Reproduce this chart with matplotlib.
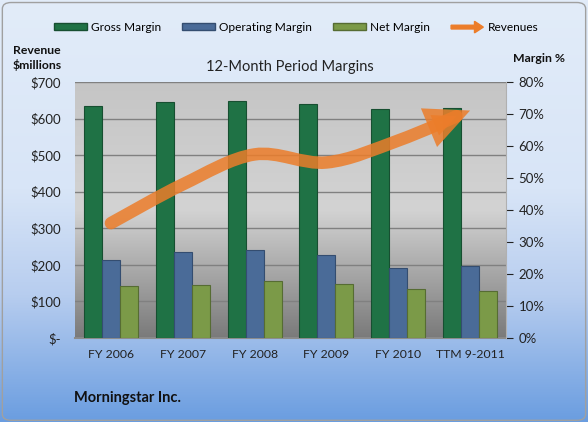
import numpy as np
import matplotlib
matplotlib.use("Agg")
import matplotlib.pyplot as plt
import matplotlib.patches as mpatches
from matplotlib.path import Path
from matplotlib.legend_handler import HandlerPatch
from matplotlib.colors import LinearSegmentedColormap

plt.rcParams['font.family'] = ['Lato', 'DejaVu Sans']

# data
periods = ['FY 2006', 'FY 2007', 'FY 2008', 'FY 2009', 'FY 2010', 'TTM 9-2011']
gross_margin = [72.6, 73.8, 74.1, 73.1, 71.5, 71.9]
operating_margin = [24.5, 26.8, 27.4, 25.9, 21.8, 22.4]
net_margin = [16.3, 16.7, 17.7, 17.0, 15.4, 14.8]
revenues = [314, 420, 502, 480, 540, 622]
rev_ticks = [0, 100, 200, 300, 400, 500, 600, 700]
rev_labels = ['$-', '$100', '$200', '$300', '$400', '$500', '$600', '$700']
margin_ticks = [0, 10, 20, 30, 40, 50, 60, 70, 80]

c_gross = '#1f7245'
c_oper = '#4a6b98'
c_net = '#7b9a48'
c_rev = '#ec7d2a'

fig = plt.figure(figsize=(5.88, 4.22), dpi=100)

# figure background gradient
bg = fig.add_axes([0, 0, 1, 1], zorder=-10)
bg_cmap = LinearSegmentedColormap.from_list(
    'bg', [(0, '#e2ecf9'), (0.45, '#d8e5f7'), (0.7, '#b7cdef'), (1, '#6a9de0')])
bg.imshow(np.linspace(0, 1, 256).reshape(-1, 1), cmap=bg_cmap, aspect='auto',
          extent=[0, 1, 0, 1])
bg.add_patch(mpatches.FancyBboxPatch((0.004, 0.004), 0.992, 0.99,
                                     boxstyle='round,pad=0,rounding_size=0.015',
                                     fill=False, ec='#a0a0a0', lw=1))
bg.set_xlim(0, 1)
bg.set_ylim(0, 1)
bg.axis('off')

rect = [75 / 588, 84 / 422, 431 / 588, 256 / 422]

# revenue axes: background + gridlines + left ticks
ax = fig.add_axes(rect)
pa_cmap = LinearSegmentedColormap.from_list(
    'pa', [(0, '#7a7a7a'), (0.5, '#d3d3d3'), (1, '#c5c5c5')])
ax.imshow(np.linspace(0, 1, 256).reshape(-1, 1), cmap=pa_cmap, aspect='auto',
          origin='lower', extent=[0, 1, 0, 1], transform=ax.transAxes, zorder=0)
ax.set_xlim(-0.5, len(periods) - 0.5)
ax.set_ylim(0, 700)
ax.set_yticks(rev_ticks)
ax.set_yticklabels(rev_labels)
ax.yaxis.grid(True, color='#808080', lw=1)
ax.set_axisbelow(False)
for ln in ax.get_ygridlines():
    ln.set_zorder(1)
ax.tick_params(axis='y', length=0, pad=10, labelsize=9.5, colors='#222222')
ax.set_xticks(range(len(periods)))
ax.set_xticklabels(periods)
ax.tick_params(axis='x', length=0, pad=8, labelsize=8.8, colors='#222222')
for s in ['top', 'left', 'right']:
    ax.spines[s].set_visible(False)
ax.spines['bottom'].set_color('#8c8c8c')
ax.spines['bottom'].set_linewidth(1.5)

# margin bars
ax2 = ax.twinx()
x = np.arange(len(periods))
w = 0.25
ax2.bar(x - w, gross_margin, w, color=c_gross, ec='#174f31', lw=0.8, label='Gross Margin')
ax2.bar(x, operating_margin, w, color=c_oper, ec='#344d70', lw=0.8, label='Operating Margin')
ax2.bar(x + w, net_margin, w, color=c_net, ec='#566c33', lw=0.8, label='Net Margin')
ax2.set_ylim(0, 80)
ax2.set_yticks(margin_ticks)
ax2.set_yticklabels([f'{t}%' for t in margin_ticks])
ax2.tick_params(axis='y', length=5, pad=4, labelsize=9.5, colors='#222222')
for t in ax2.yaxis.get_ticklines():
    t.set_color('#8c8c8c')
for s in ['top', 'left', 'bottom']:
    ax2.spines[s].set_visible(False)
ax2.spines['right'].set_color('#b0b0b0')

# revenue smoothed line with arrow head
ax3 = ax.twinx()
ax3.set_ylim(0, 700)
ax3.axis('off')
pts = np.column_stack([x, revenues]).astype(float)
ext = np.vstack([pts[0], pts, pts[-1]])
verts = [tuple(pts[0])]
codes = [Path.MOVETO]
for i in range(len(pts) - 1):
    p0, p1, p2, p3 = ext[i], ext[i + 1], ext[i + 2], ext[i + 3]
    verts += [tuple(p1 + (p2 - p0) / 6), tuple(p2 - (p3 - p1) / 6), tuple(p2)]
    codes += [Path.CURVE4] * 3
arrow = mpatches.FancyArrowPatch(path=Path(verts, codes),
                                 arrowstyle='-|>,head_length=0.85,head_width=0.4',
                                 mutation_scale=20, lw=9, color=c_rev, alpha=0.85,
                                 capstyle='round', joinstyle='miter',
                                 shrinkA=0, shrinkB=0, transform=ax3.transData)
ax3.add_patch(arrow)
ax3.set_xlim(-0.5, len(periods) - 0.5)


def make_arrow(legend, orig_handle, xdescent, ydescent, width, height, fontsize):
    return mpatches.FancyArrow(0, height / 2, width, 0, width=height * 0.55,
                               head_width=height * 1.7, head_length=height * 1.3,
                               length_includes_head=True, color=c_rev)


rev_handle = mpatches.Patch(color=c_rev, label='Revenues')
handles = [mpatches.Patch(fc=c_gross, ec='#174f31', label='Gross Margin'),
           mpatches.Patch(fc=c_oper, ec='#344d70', label='Operating Margin'),
           mpatches.Patch(fc=c_net, ec='#566c33', label='Net Margin'),
           rev_handle]
fig.legend(handles=handles, loc='center', bbox_to_anchor=(0.504, 0.936), ncol=4,
           frameon=False, fontsize=8.6, handlelength=2.7, handleheight=0.5,
           handletextpad=0.35, columnspacing=1.8,
           handler_map={rev_handle: HandlerPatch(patch_func=make_arrow)})

fig.text(290 / 588, 1 - 67 / 422, '12-Month Period Margins', ha='center', va='center',
         fontsize=10.5, color='#222222')
fig.text(13 / 588, 1 - 58 / 422, 'Revenue\n$millions', ha='left', va='center',
         fontsize=8.8, fontweight='bold', linespacing=1.3, color='#111111')
fig.text(513 / 588, 1 - 59 / 422, 'Margin %', ha='left', va='center',
         fontsize=8.8, fontweight='bold', color='#111111')
fig.text(74 / 588, 1 - 398 / 422, 'Morningstar Inc.', ha='left', va='center',
         fontsize=10.5, fontweight='bold', color='#111111')

fig.savefig('out.png', dpi=100)
